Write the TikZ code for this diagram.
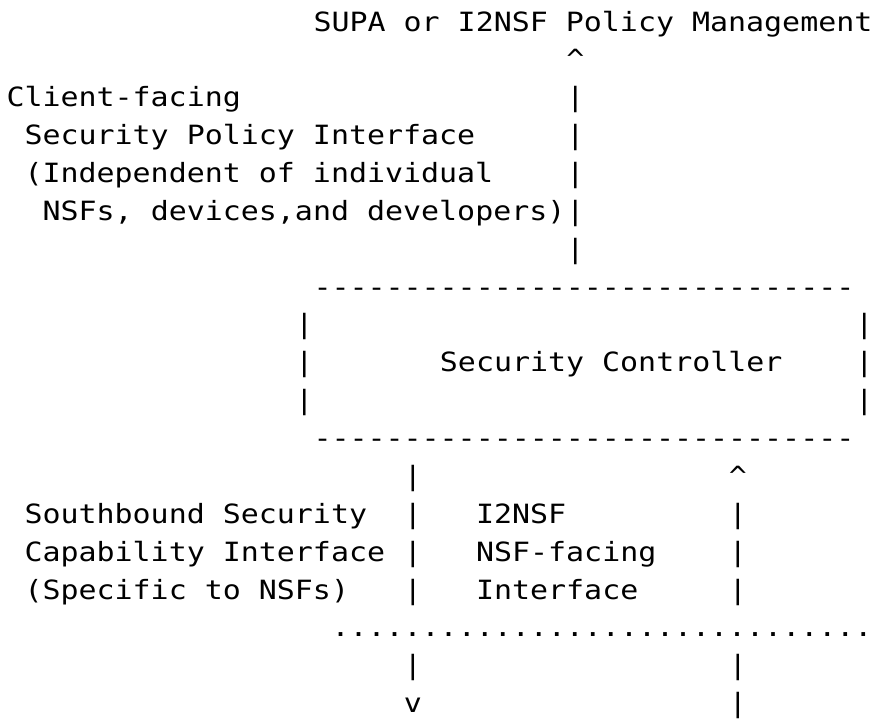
\documentclass[tikz,border=0pt]{standalone}
\usepackage{fontspec}
\setmonofont{DejaVu Sans Mono}[FakeStretch=1.13]
\frenchspacing

\tikzstyle{ascii} = [anchor=base west, inner sep=0pt, outer sep=0pt, text=black, font=\ttfamily\fontsize{26.5}{32}\selectfont]

\begin{document}
\begin{tikzpicture}[x=18.06pt, y=-37.87pt]
\fill[white] (-6.5pt,31pt) rectangle (867.5pt,-690pt);
\useasboundingbox (-6.5pt,31pt) rectangle (867.5pt,-690pt);

	% client-facing side
	\node (supa) [ascii] at (17,0) {SUPA or I2NSF Policy Management};
	\node (upsupa) [ascii] at (31,1) {\textasciicircum};
	\foreach \r in {2,...,6}
		\node (pcf\r) [ascii] at (31,\r) {|};
	\node (client) [ascii] at (0,2) {Client-facing};
	\node (secpol) [ascii] at (1,3) {Security Policy Interface};
	\node (indep) [ascii] at (1,4) {(Independent of individual};
	\node (nsfs) [ascii] at (2,5) {NSFs, devices,and developers)};

	% security controller
	\node (ctrltop) [ascii] at (17,7) {------------------------------};
	\foreach \r in {8,9,10} {
		\node (lft\r) [ascii] at (16,\r) {|};
		\node (rgt\r) [ascii] at (47,\r) {|};
	}
	\node (ctrl) [ascii] at (24,9) {Security Controller};
	\node (ctrlbot) [ascii] at (17,11) {------------------------------};

	% southbound and NSF-facing side
	\node (psb12) [ascii] at (22,12) {|};
	\node (upnsf) [ascii] at (40,12) {\textasciicircum};
	\foreach \r in {13,14,15,17} {
		\node (psb\r) [ascii] at (22,\r) {|};
		\node (pnf\r) [ascii] at (40,\r) {|};
	}
	\node (south) [ascii] at (1,13) {Southbound Security};
	\node (capab) [ascii] at (1,14) {Capability Interface};
	\node (specific) [ascii] at (1,15) {(Specific to NSFs)};
	\node (i2nsf) [ascii] at (26,13) {I2NSF};
	\node (nsffacing) [ascii] at (26,14) {NSF-facing};
	\node (iface) [ascii] at (26,15) {Interface};
	\node (dots) [ascii] at (18,16) {..............................};
	\node (downsb) [ascii] at (22,18) {v};
	\node (pnf18) [ascii] at (40,18) {|};

\end{tikzpicture}
\end{document}
